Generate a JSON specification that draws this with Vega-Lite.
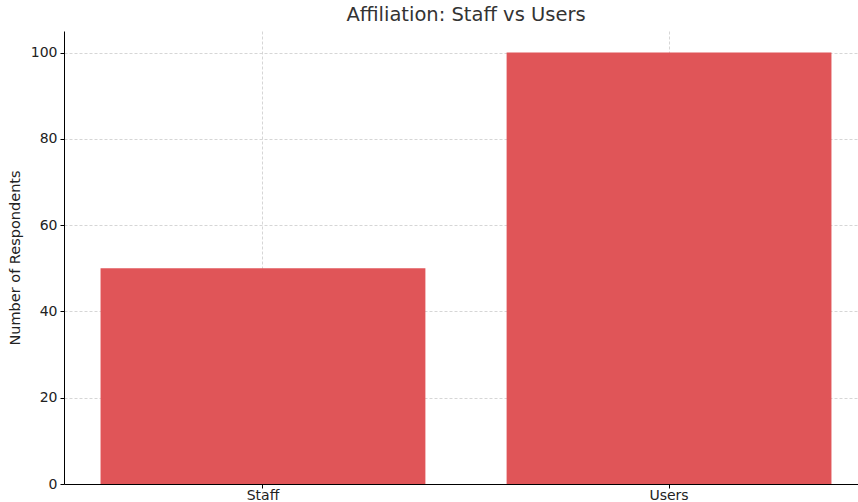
{
  "$schema": "https://vega.github.io/schema/vega-lite/v6.json",
  "autosize": {"type": "none"},
  "padding": {"left": 64, "top": 31, "right": 0, "bottom": 18},
  "width": 804,
  "height": 453,
  "background": "white",
  "title": {
    "text": "Affiliation: Staff vs Users",
    "font": "DejaVu Sans",
    "fontSize": 19.5,
    "fontWeight": "normal",
    "color": "#333333",
    "offset": 6,
    "anchor": "middle"
  },
  "data": {
    "values": [
      {"Affiliation": "Staff", "Respondents": 50},
      {"Affiliation": "Users", "Respondents": 100}
    ]
  },
  "config": {
    "view": {"stroke": null},
    "axis": {
      "labelFont": "DejaVu Sans",
      "titleFont": "DejaVu Sans",
      "labelFontSize": 14,
      "titleFontSize": 14.5,
      "titleFontWeight": "normal",
      "labelColor": "#222222",
      "titleColor": "#222222",
      "domainColor": "#000000",
      "domainWidth": 1,
      "tickColor": "#000000",
      "tickSize": 4,
      "gridColor": "#cccccc",
      "gridDash": [3, 2],
      "gridWidth": 0.8,
      "zindex": 1
    }
  },
  "mark": {"type": "bar", "color": "#E05558"},
  "encoding": {
    "x": {
      "field": "Affiliation",
      "type": "nominal",
      "sort": null,
      "scale": {"paddingInner": 0.2, "paddingOuter": 0.09},
      "axis": {
        "title": null,
        "labelAngle": 0,
        "grid": true,
        "bandPosition": 0.5,
        "labelPadding": 0
      }
    },
    "y": {
      "field": "Respondents",
      "type": "quantitative",
      "scale": {"domain": [0, 105], "nice": false},
      "axis": {
        "title": "Number of Respondents",
        "values": [0, 20, 40, 60, 80, 100],
        "grid": true,
        "titlePadding": 8,
        "labelPadding": 3
      }
    }
  }
}
